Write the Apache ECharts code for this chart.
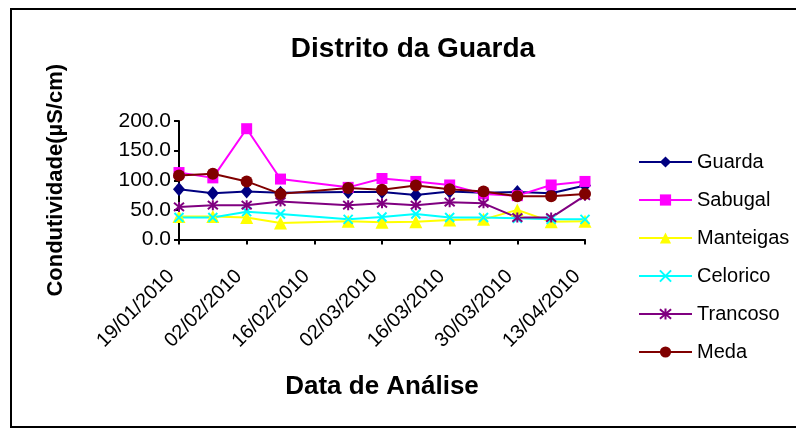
<!DOCTYPE html>
<html>
<head>
<meta charset="utf-8">
<script src="https://cdn.jsdelivr.net/npm/echarts@6/dist/echarts.min.js"></script>
<style>
html,body{margin:0;padding:0;background:#fff;}
#chart{width:796px;height:428px;}
</style>
</head>
<body>
<div id="chart"></div>
<script>
// ---- data ----
const dates = ['2010-01-19','2010-01-26','2010-02-02','2010-02-09','2010-02-23','2010-03-02','2010-03-09','2010-03-16','2010-03-23','2010-03-30','2010-04-06','2010-04-13'];
const tickLabels = ['19/01/2010','02/02/2010','16/02/2010','02/03/2010','16/03/2010','30/03/2010','13/04/2010'];
const guarda    = [85, 78, 81, 79, 80, 80, 75, 81, 79, 80, 78, 91];
const sabugal   = [113, 104, 187, 102, 88, 103, 98, 92, 77, 74, 92, 98];
const manteigas = [39, 39, 37, 28, 31, 29, 30, 33, 34, 50, 30, 31];
const celorico  = [37, 37, 47, 43, 34, 38, 43, 37, 37, 36, 34, 34];
const trancoso  = [55, 58, 58, 64, 58, 61, 58, 63, 61, 37, 37, 74];
const meda      = [108, 111, 98, 77, 87, 84, 91, 85, 81, 73, 73, 77];
const seriesNames = ['Guarda','Sabugal','Manteigas','Celorico','Trancoso','Meda'];

// ---- build ----
const DAY = 86400000;
const t0 = Date.parse(dates[0]);
const days = dates.map(d => Math.round((Date.parse(d) - t0) / DAY));
const pairs = vals => vals.map((v, i) => [days[i], v]);

const FONT = 'Liberation Sans, Arial, sans-serif';
const styles = [
  {color:'#000080', symbol:'diamond', size:[12,14]},
  {color:'#FF00FF', symbol:'rect', size:11},
  {color:'#FFFF00', symbol:'triangle', size:13},
  {color:'#00FFFF', symbol:'path://M0,0L10,10M10,0L0,10', size:9, stroke:true},
  {color:'#800080', symbol:'path://M0,0L10,10M10,0L0,10M5,-1L5,11', size:10, stroke:true},
  {color:'#800000', symbol:'circle', size:12}
];
const allVals = [guarda, sabugal, manteigas, celorico, trancoso, meda];

const series = seriesNames.map((name, k) => {
  const s = styles[k];
  return {
    name: name,
    type: 'line',
    data: pairs(allVals[k]),
    symbol: s.symbol,
    symbolSize: s.size,
    showAllSymbol: true,
    lineStyle: {color: s.color, width: 2},
    itemStyle: s.stroke ? {color: s.color, borderColor: s.color, borderWidth: 2}
                        : {color: s.color, borderWidth: 0},
    emphasis: {disabled: true},
    animation: false
  };
});

const chart = echarts.init(document.getElementById('chart'), null, {renderer:'canvas'});
chart.setOption({
  animation: false,
  backgroundColor: '#fff',
  title: {
    text: 'Distrito da Guarda',
    left: 408, top: 30, textAlign: 'center',
    textStyle: {fontFamily: FONT, fontWeight: 'bold', fontSize: 28, color: '#000'}
  },
  graphic: [{
    type: 'rect', z: 100,
    shape: {x: 11, y: 9, width: 800, height: 418},
    style: {fill: 'none', stroke: '#000', lineWidth: 2}
  }],
  legend: {
    orient: 'vertical',
    left: 633, top: 147,
    itemWidth: 53, itemHeight: 14, itemGap: 18,
    data: seriesNames,
    textStyle: {fontFamily: FONT, fontSize: 20, color: '#000'}
  },
  grid: {left: 179, right: 211, top: 121, bottom: 188.5},
  xAxis: {
    type: 'value', min: 0, max: 84, interval: 14,
    name: 'Data de Análise', nameLocation: 'middle', nameGap: 134,
    nameTextStyle: {fontFamily: FONT, fontWeight: 'bold', fontSize: 26, color: '#000'},
    axisLine: {lineStyle: {color: '#000', width: 2}},
    axisTick: {show: true, length: 5, lineStyle: {color: '#000', width: 2}},
    splitLine: {show: false},
    axisLabel: {
      rotate: 45, margin: 26, color: '#000', fontFamily: FONT, fontSize: 20,
      formatter: v => tickLabels[Math.round(v / 14)] + '  '
    }
  },
  yAxis: {
    type: 'value', min: 0, max: 200, interval: 50,
    name: 'Condutividade(µS/cm)', nameLocation: 'middle', nameGap: 112,
    nameTextStyle: {fontFamily: FONT, fontWeight: 'bold', fontSize: 22, color: '#000'},
    axisLine: {show: true, lineStyle: {color: '#000', width: 2}},
    axisTick: {show: true, length: 5, lineStyle: {color: '#000', width: 2}},
    splitLine: {show: false},
    axisLabel: {
      margin: 8, color: '#000', fontFamily: FONT, fontSize: 21,
      formatter: v => v.toFixed(1)
    }
  },
  series: series
});
</script>
</body>
</html>
